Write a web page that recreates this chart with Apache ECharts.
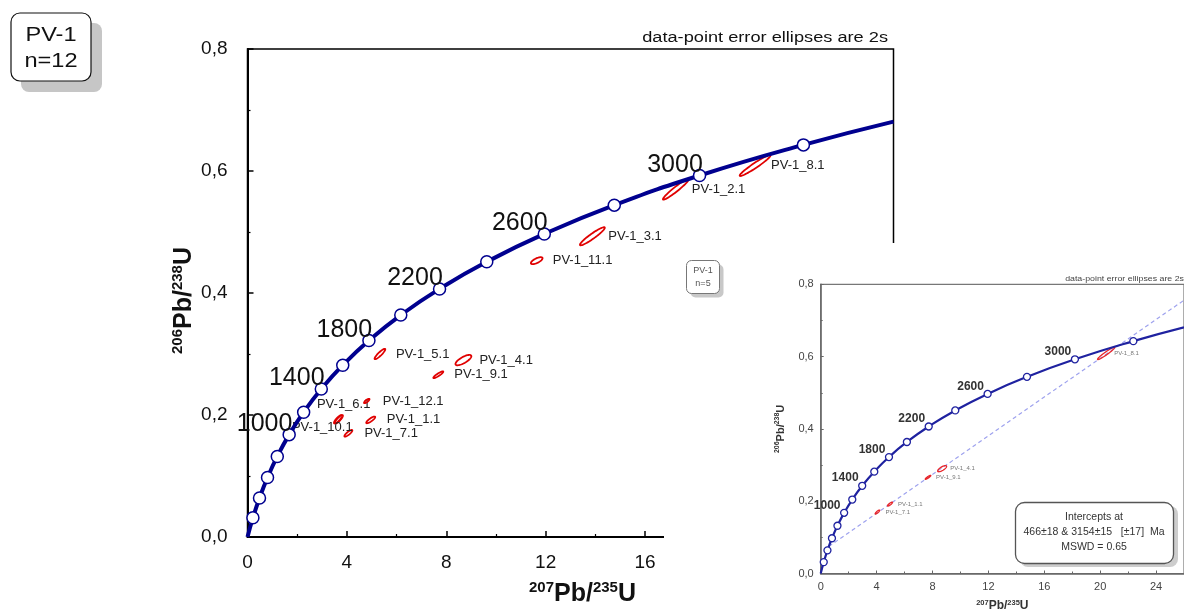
<!DOCTYPE html>
<html>
<head>
<meta charset="utf-8">
<title>PV-1 concordia</title>
<script src="https://cdn.jsdelivr.net/npm/echarts@6/dist/echarts.min.js"></script>
<style>
  html, body { margin: 0; padding: 0; background: #fff; }
  #chart { width: 1184px; height: 613px; }
</style>
</head>
<body>
<div id="chart"></div>
<script>
// concordia age marks (Ma) with their 207Pb/235U and 206Pb/238U ratios
const ages = [200, 400, 600, 800, 1000, 1200, 1400, 1600, 1800, 2000, 2200, 2400, 2600, 2800, 3000, 3200]
const concX = [0.218, 0.483, 0.806, 1.199, 1.677, 2.260, 2.970, 3.834, 4.887, 6.169, 7.730, 9.630, 11.945, 14.762, 18.194, 22.374]
const concY = [0.0315, 0.0640, 0.0975, 0.1321, 0.1678, 0.2046, 0.2426, 0.2817, 0.3221, 0.3638, 0.4067, 0.4511, 0.4968, 0.5440, 0.5926, 0.6428]
const curveStart = [0, 0]
const curveEnd = [26, 0.681]

// spot analyses, 2s error ellipses
const spotNames = ['PV-1_1.1', 'PV-1_2.1', 'PV-1_3.1', 'PV-1_4.1', 'PV-1_5.1', 'PV-1_6.1', 'PV-1_7.1', 'PV-1_8.1', 'PV-1_9.1', 'PV-1_10.1', 'PV-1_11.1', 'PV-1_12.1']
const spotX = [4.96, 17.24, 13.88, 8.69, 5.33, 3.64, 4.06, 20.43, 7.68, 3.68, 11.64, 4.80]
const spotY = [0.192, 0.570, 0.493, 0.290, 0.300, 0.193, 0.170, 0.609, 0.266, 0.193, 0.453, 0.223]
const errX = [0.18, 0.52, 0.50, 0.32, 0.215, 0.16, 0.16, 0.62, 0.20, 0.16, 0.235, 0.11]
const errY = [0.0055, 0.017, 0.0148, 0.0085, 0.0085, 0.0069, 0.0055, 0.0172, 0.0055, 0.0069, 0.0057, 0.0036]
const rho = [0.85, 0.96, 0.94, 0.75, 0.9, 0.85, 0.85, 0.96, 0.9, 0.85, 0.7, 0.8]

// spots regressed in the small diagram (n=5) and the discordia line
const insetSpots = ['PV-1_1.1', 'PV-1_4.1', 'PV-1_7.1', 'PV-1_8.1', 'PV-1_9.1']
const discordia = [[0.58, 0.075], [26, 0.756]]
const interceptText = ['Intercepts at', '466±18 & 3154±15   [±17]  Ma', 'MSWD = 0.65']

// labels that do not sit to the right of their ellipse
const labelShift = { 'PV-1_6.1': [-21, -15], 'PV-1_10.1': [-47, 8] }

const FONT = '"Liberation Sans", Arial, sans-serif'
const BLUE = '#00008f'

const chart = echarts.init(document.getElementById('chart'))

const curveData = (labelPos) => [
  { value: curveStart, symbol: 'none' },
  ...ages.map((a, i) => ({
    value: [concX[i], concY[i]],
    label: { show: a >= 1000 && (a - 1000) % 400 === 0, formatter: String(a), position: labelPos }
  })),
  { value: curveEnd, symbol: 'none' }
]

const ellipseRenderer = (o) => (params, api) => {
  const i = api.value(5)
  const cx = api.value(0), cy = api.value(1)
  const ex = api.value(2), ey = api.value(3), r = api.value(4)
  const s = Math.sqrt(1 - r * r)
  const pts = []
  for (let k = 0; k < 64; k++) {
    const t = k / 64 * Math.PI * 2
    pts.push(api.coord([cx + ex * Math.cos(t), cy + ey * (r * Math.cos(t) + s * Math.sin(t))]))
  }
  const c = api.coord([cx, cy])
  const sh = (o.shift && labelShift[spotNames[i]]) || [o.dx, 0]
  return {
    type: 'group',
    children: [
      { type: 'polygon', shape: { points: pts }, style: { fill: 'none', stroke: o.stroke, lineWidth: o.lw } },
      {
        type: 'text', x: c[0] + sh[0], y: c[1] + sh[1],
        style: { text: spotNames[i], fill: o.color, fontSize: o.fontSize, fontFamily: FONT, align: 'left', verticalAlign: 'middle' }
      }
    ]
  }
}

const spotData = (names) => spotNames
  .map((n, i) => [spotX[i], spotY[i], errX[i], errY[i], rho[i], i])
  .filter(d => names.includes(spotNames[d[5]]))

const nameRich = (big, small, color) => ({
  b: { fontSize: big, fontWeight: 'bold', color, fontFamily: FONT, lineHeight: big + 3 },
  s: { fontSize: small, fontWeight: 'bold', color, fontFamily: FONT, verticalAlign: 'top', lineHeight: small + 2 }
})

const ratioFmt = v => v.toFixed(1).replace('.', ',')

const option = {
  animation: false,
  textStyle: { fontFamily: FONT },
  grid: [
    { left: 247.5, top: 49, right: 290.5, bottom: 76, show: true, borderColor: '#000', borderWidth: 1.5, backgroundColor: 'transparent' },
    { left: 820.7, top: 284.3, width: 366, height: 291.7, show: true, borderColor: '#777', borderWidth: 1.2, backgroundColor: 'transparent', z: 60 }
  ],
  xAxis: [
    {
      gridIndex: 0, type: 'value', min: 0, max: 26, interval: 4,
      axisLine: { onZero: false, lineStyle: { color: '#000', width: 2 } },
      axisTick: { inside: true, length: 6, lineStyle: { color: '#000', width: 1.5 } },
      minorTick: { show: true, splitNumber: 2, length: 3, lineStyle: { color: '#000', width: 1.2 } },
      splitLine: { show: false },
      axisLabel: { color: '#111', fontSize: 19, margin: 16, showMaxLabel: false },
      name: '{s|207}{b|Pb/}{s|235}{b|U}', nameLocation: 'middle', nameGap: 43, nameMoveOverlap: false,
      nameTextStyle: { padding: [0, 0, 0, 24], rich: nameRich(25, 15, '#111') }
    },
    {
      gridIndex: 1, type: 'value', min: 0, max: 26, interval: 4, z: 60,
      axisLine: { onZero: false, lineStyle: { color: '#666', width: 1.5 } },
      axisTick: { inside: true, length: 3, lineStyle: { color: '#666', width: 1 } },
      minorTick: { show: true, splitNumber: 2, length: 2, lineStyle: { color: '#666', width: 1 } },
      splitLine: { show: false },
      axisLabel: { color: '#444', fontSize: 11, margin: 8, showMaxLabel: false },
      name: '{s|207}{b|Pb/}{s|235}{b|U}', nameLocation: 'middle', nameGap: 25, nameMoveOverlap: false,
      nameTextStyle: { rich: nameRich(12, 7.5, '#333') }
    }
  ],
  yAxis: [
    {
      gridIndex: 0, type: 'value', min: 0, max: 0.8, interval: 0.2,
      axisLine: { onZero: false, lineStyle: { color: '#000', width: 2 } },
      axisTick: { inside: true, length: 6, lineStyle: { color: '#000', width: 1.5 } },
      minorTick: { show: true, splitNumber: 2, length: 3, lineStyle: { color: '#000', width: 1.2 } },
      splitLine: { show: false },
      axisLabel: { color: '#111', fontSize: 19, margin: 20, formatter: ratioFmt },
      name: '{s|206}{b|Pb/}{s|238}{b|U}', nameLocation: 'middle', nameGap: 49, nameRotate: 90, nameMoveOverlap: false,
      nameTextStyle: { padding: [0, 15, 0, 0], rich: nameRich(25, 15, '#111') }
    },
    {
      gridIndex: 1, type: 'value', min: 0, max: 0.8, interval: 0.2, z: 60,
      axisLine: { onZero: false, lineStyle: { color: '#666', width: 1.5 } },
      axisTick: { inside: true, length: 3, lineStyle: { color: '#666', width: 1 } },
      minorTick: { show: true, splitNumber: 2, length: 2, lineStyle: { color: '#666', width: 1 } },
      splitLine: { show: false },
      axisLabel: { color: '#444', fontSize: 11, margin: 7, formatter: ratioFmt },
      name: '{s|206}{b|Pb/}{s|238}{b|U}', nameLocation: 'middle', nameGap: 33, nameRotate: 90, nameMoveOverlap: false,
      nameTextStyle: { rich: nameRich(11, 7, '#333') }
    }
  ],
  series: [
    {
      type: 'custom', xAxisIndex: 0, yAxisIndex: 0, z: 2,
      renderItem: ellipseRenderer({ stroke: '#e00000', lw: 1.8, color: '#222', fontSize: 13, dx: 16, shift: true }),
      data: spotData(spotNames)
    },
    {
      type: 'line', xAxisIndex: 0, yAxisIndex: 0, z: 3, smooth: true,
      symbol: 'circle', symbolSize: 12,
      lineStyle: { color: BLUE, width: 4 },
      itemStyle: { color: '#fff', borderColor: BLUE, borderWidth: 1.5 },
      label: { color: '#111', fontSize: 25, align: 'right', verticalAlign: 'middle' },
      data: curveData([10, -4])
    },
    {
      type: 'line', xAxisIndex: 1, yAxisIndex: 1, z: 70, symbol: 'none',
      lineStyle: { color: '#9ea2ee', width: 1.2, type: [4, 3] },
      data: discordia
    },
    {
      type: 'custom', xAxisIndex: 1, yAxisIndex: 1, z: 71,
      renderItem: ellipseRenderer({ stroke: '#e8262a', lw: 1.3, color: '#777', fontSize: 6, dx: 8, shift: false }),
      data: spotData(insetSpots)
    },
    {
      type: 'line', xAxisIndex: 1, yAxisIndex: 1, z: 72, smooth: true,
      symbol: 'circle', symbolSize: 7,
      lineStyle: { color: '#1f22a0', width: 2.2 },
      itemStyle: { color: '#fff', borderColor: '#1f22a0', borderWidth: 1.3 },
      label: { color: '#333', fontSize: 12, fontWeight: 'bold', align: 'right', verticalAlign: 'middle' },
      data: curveData([0.5, -3.5])
    }
  ],
  graphic: [
    { type: 'rect', z: 1, shape: { x: 21, y: 23, width: 81, height: 69, r: 8 }, style: { fill: '#c6c6c6' } },
    { type: 'rect', z: 2, shape: { x: 11, y: 13, width: 80, height: 68, r: 9 }, style: { fill: '#fff', stroke: '#111', lineWidth: 1.2 } },
    { type: 'text', z: 3, x: 51, y: 35, scaleX: 1.18, style: { text: 'PV-1', fontSize: 20, fontFamily: FONT, fill: '#111', align: 'center', verticalAlign: 'middle' } },
    { type: 'text', z: 3, x: 51, y: 61, scaleX: 1.18, style: { text: 'n=12', fontSize: 20, fontFamily: FONT, fill: '#111', align: 'center', verticalAlign: 'middle' } },
    { type: 'text', z: 3, x: 888, y: 38, scaleX: 1.3, style: { text: 'data-point error ellipses are 2s', fontSize: 14, fontFamily: FONT, fill: '#111', align: 'right', verticalAlign: 'middle' } },

    // the smaller diagram pasted over the lower right
    { type: 'rect', z: 50, shape: { x: 664, y: 243, width: 520, height: 370 }, style: { fill: '#fff' } },
    { type: 'rect', z: 55, shape: { x: 690.5, y: 264.5, width: 33, height: 33, r: 5 }, style: { fill: '#c8c8c8' } },
    { type: 'rect', z: 56, shape: { x: 686.5, y: 260.5, width: 33, height: 33, r: 5 }, style: { fill: '#fff', stroke: '#777', lineWidth: 1 } },
    { type: 'text', z: 57, x: 703, y: 271, style: { text: 'PV-1', fontSize: 9, fontFamily: FONT, fill: '#555', align: 'center', verticalAlign: 'middle' } },
    { type: 'text', z: 57, x: 703, y: 284, style: { text: 'n=5', fontSize: 9, fontFamily: FONT, fill: '#555', align: 'center', verticalAlign: 'middle' } },
    { type: 'text', z: 57, x: 1184, y: 279, scaleX: 1.1, style: { text: 'data-point error ellipses are 2s', fontSize: 8, fontFamily: FONT, fill: '#444', align: 'right', verticalAlign: 'middle' } },
    { type: 'rect', z: 80, shape: { x: 1020, y: 506, width: 158, height: 61, r: 8 }, style: { fill: '#cdcdcd' } },
    { type: 'rect', z: 81, shape: { x: 1015.5, y: 502.5, width: 158, height: 61, r: 9 }, style: { fill: '#fff', stroke: '#555', lineWidth: 1.3 } },
    ...interceptText.map((t, k) => ({
      type: 'text', z: 82, x: 1094, y: 517 + k * 15.2,
      style: { text: t, fontSize: 10.5, fontFamily: FONT, fill: '#333', align: 'center', verticalAlign: 'middle' }
    }))
  ]
}

chart.setOption(option)
window.addEventListener('resize', () => chart.resize())
</script>
</body>
</html>
